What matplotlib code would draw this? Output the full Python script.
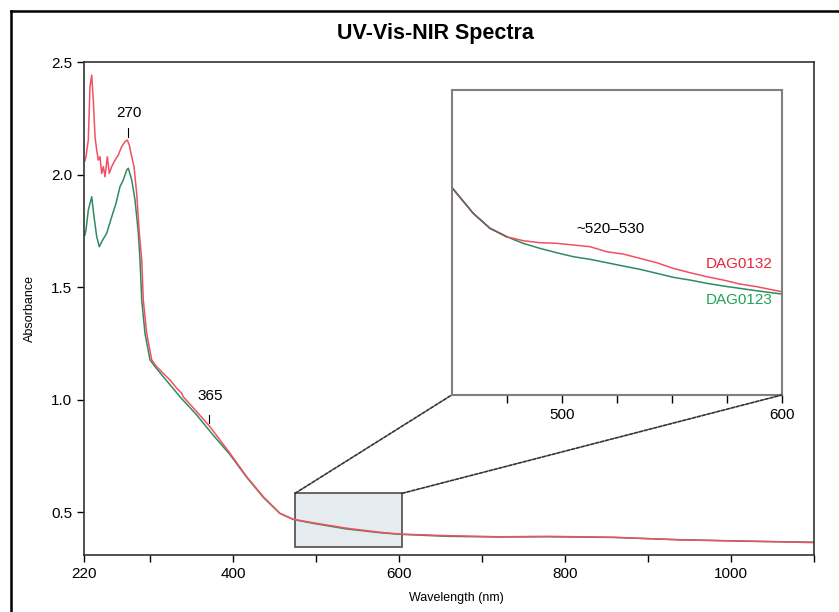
"""UV-Vis-NIR absorbance spectra of two samples with a zoomed inset."""

import matplotlib

matplotlib.use("Agg")
import matplotlib.pyplot as plt
from matplotlib.lines import Line2D
from matplotlib.patches import ConnectionPatch, Rectangle

plt.rcParams["font.family"] = ["Liberation Sans", "DejaVu Sans"]

RED = "#f2505f"
GREEN = "#2f8a62"

# full spectra (nm, absorbance)
wl_dag0132 = [
    221, 222.4, 225.2, 227.2, 229.3, 231.2, 233.3, 235.3, 237.2, 239.3,
    241.3, 243.3, 245.3, 248.1, 250.5, 253.4, 257.4, 261.4, 265.4, 269.4,
    272.2, 274.6, 277.5, 280.3, 283.5, 286.7, 289.6, 291.5, 295.6, 301.6,
    307.6, 315.6, 323.7, 331.8, 337.8, 339.7, 355.9, 371.9, 396, 416.1,
    436.2, 456.3, 472.3, 496.4, 536.7, 576.8, 600.9, 657.3, 721.5, 777.6,
    857.7, 938.5, 1018.9, 1098.8,
]
abs_dag0132 = [
    2.06, 2.08, 2.153, 2.39, 2.442, 2.331, 2.168, 2.109, 2.064, 2.079,
    2.005, 2.035, 1.99, 2.079, 2.005, 2.035, 2.064, 2.087, 2.124, 2.146,
    2.153, 2.131, 2.079, 2.035, 1.916, 1.739, 1.62, 1.442, 1.294, 1.176,
    1.146, 1.116, 1.087, 1.05, 1.028, 1.012, 0.946, 0.879, 0.761, 0.657,
    0.568, 0.494, 0.468, 0.452, 0.428, 0.41, 0.402, 0.395, 0.39, 0.392,
    0.388, 0.376, 0.371, 0.364,
]

wl_dag0123 = [
    221, 222.4, 225.2, 229.3, 232.1, 235.3, 238.4, 242.5, 247.4, 253.4,
    258.6, 263.4, 267.4, 271.5, 273.4, 277.5, 281.5, 285.5, 287.5, 289.6,
    293.5, 299.6, 305.6, 315.6, 325.7, 335.7, 355, 375, 396, 416,
    436, 456, 472, 496, 536, 577, 601, 657, 721, 778,
    858, 938, 1019, 1099,
]
abs_dag0123 = [
    1.73, 1.753, 1.842, 1.901, 1.812, 1.724, 1.679, 1.709, 1.739, 1.812,
    1.872, 1.946, 1.976, 2.02, 2.028, 1.976, 1.887, 1.739, 1.62, 1.442,
    1.294, 1.176, 1.146, 1.101, 1.057, 1.012, 0.935, 0.845, 0.755, 0.655,
    0.566, 0.494, 0.467, 0.45, 0.425, 0.408, 0.401, 0.392, 0.389, 0.39,
    0.387, 0.377, 0.37, 0.366,
]

# zoomed view of the 450-600 nm region as drawn in the inset
inset_wl = [
    450.0, 459.8, 467.4, 475.0, 482.5, 490.1, 497.7, 505.3, 512.9, 520.5,
    528.0, 535.6, 543.2, 550.7, 558.3, 565.9, 573.5, 581.0, 588.6, 600.0,
]
inset_dag0132 = [
    0.5075, 0.4827, 0.4685, 0.4605, 0.4567, 0.4548, 0.4542, 0.4526, 0.4510, 0.4462,
    0.4440, 0.4399, 0.4358, 0.4304, 0.4263, 0.4225, 0.4193, 0.4155, 0.4130, 0.4082,
]
inset_dag0123 = [
    0.5075, 0.4827, 0.4685, 0.4605, 0.4542, 0.4494, 0.4453, 0.4415, 0.4390, 0.4358,
    0.4326, 0.4295, 0.4257, 0.4219, 0.4193, 0.4162, 0.4136, 0.4114, 0.4091, 0.4060,
]

main_ticks = [220, 300, 400, 500, 600, 700, 800, 900, 1000, 1100]
main_ticklabels = ["220", "", "400", "", "600", "", "800", "", "1000", ""]
y_ticks = [0.5, 1.0, 1.5, 2.0, 2.5]
inset_ticks = [475, 500, 525, 550, 575, 600]
inset_ticklabels = ["", "500", "", "", "", "600"]

zoom_box = (474.4, 0.346, 129.0, 0.237)  # x, y, width, height

fig = plt.figure(figsize=(8.39, 6.12), dpi=100)

# frame lines at the top and left of the figure
fig.add_artist(Line2D([11 / 839, 1], [1 - 11 / 612] * 2, color="black", lw=1.8))
fig.add_artist(Line2D([11 / 839] * 2, [0, 1 - 11 / 612], color="black", lw=1.8))

fig.text(0.519, 1 - 34 / 612, "UV-Vis-NIR Spectra", ha="center", va="center",
         fontsize=15.5, fontweight="bold")

ax = fig.add_axes([84 / 839, 1 - 555 / 612, 730 / 839, 493 / 612])
ax.plot(wl_dag0123, abs_dag0123, color=GREEN, lw=1.1)
ax.plot(wl_dag0132, abs_dag0132, color=RED, lw=1.1)
ax.set_xlim(220, 1100)
ax.set_ylim(0.309, 2.5)
ax.set_xticks(main_ticks)
ax.set_xticklabels(main_ticklabels)
ax.set_yticks(y_ticks)
ax.set_yticklabels([f"{v:.1f}" for v in y_ticks])
ax.tick_params(direction="out", length=5, width=1, labelsize=11, colors="black")
for sp in ax.spines.values():
    sp.set_color("#333333")
    sp.set_linewidth(1.2)
ax.set_xlabel("Wavelength (nm)", fontsize=9)
ax.set_ylabel("Absorbance", fontsize=9)
ax.xaxis.set_label_coords(0.51, -0.075)
ax.yaxis.set_label_coords(-0.066, 0.5)

# peak markers
ax.text(274.3, 2.273, "270", ha="center", va="center", fontsize=11)
ax.plot([273.4, 273.4], [2.205, 2.165], color="black", lw=0.8)
ax.text(372.7, 1.016, "365", ha="center", va="center", fontsize=11)
ax.plot([370.7, 370.7], [0.931, 0.896], color="black", lw=0.8)

ax.add_patch(Rectangle(zoom_box[:2], zoom_box[2], zoom_box[3],
                       facecolor="#dfe8ec", edgecolor="#333333", lw=1.3,
                       alpha=0.8, zorder=1))

# inset
axin = fig.add_axes([451.7 / 839, 1 - 395 / 612, 330 / 839, 305 / 612])
axin.plot(inset_wl, inset_dag0123, color=GREEN, lw=1.1)
axin.plot(inset_wl, inset_dag0132, color=RED, lw=1.1)
axin.plot(inset_wl[:4], inset_dag0132[:4], color="#666666", lw=1.1)
axin.set_xlim(450, 600)
axin.set_ylim(0.31, 0.60)
axin.set_xticks(inset_ticks)
axin.set_xticklabels(inset_ticklabels)
axin.set_yticks([])
axin.tick_params(direction="out", length=6, width=1, labelsize=11, colors="black")
for sp in axin.spines.values():
    sp.set_color("#808080")
    sp.set_linewidth(1.5)

axin.text(522, 0.468, "~520–530", ha="center", va="center", fontsize=11)
axin.text(596, 0.4347, "DAG0132", ha="right", va="center", fontsize=11,
          color="#e8243a")
axin.text(596, 0.3999, "DAG0123", ha="right", va="center", fontsize=11,
          color="#1ea35a")

# dashed connectors from the zoom box to the inset
for corner_x, inset_x in [(zoom_box[0], 0), (zoom_box[0] + zoom_box[2], 1)]:
    con = ConnectionPatch(xyA=(corner_x, zoom_box[1] + zoom_box[3]), coordsA=ax.transData,
                          xyB=(inset_x, 0), coordsB=axin.transAxes,
                          color="#333333", lw=1.2, linestyle=(0, (2, 1)))
    fig.add_artist(con)

fig.savefig("out.png", dpi=100)
